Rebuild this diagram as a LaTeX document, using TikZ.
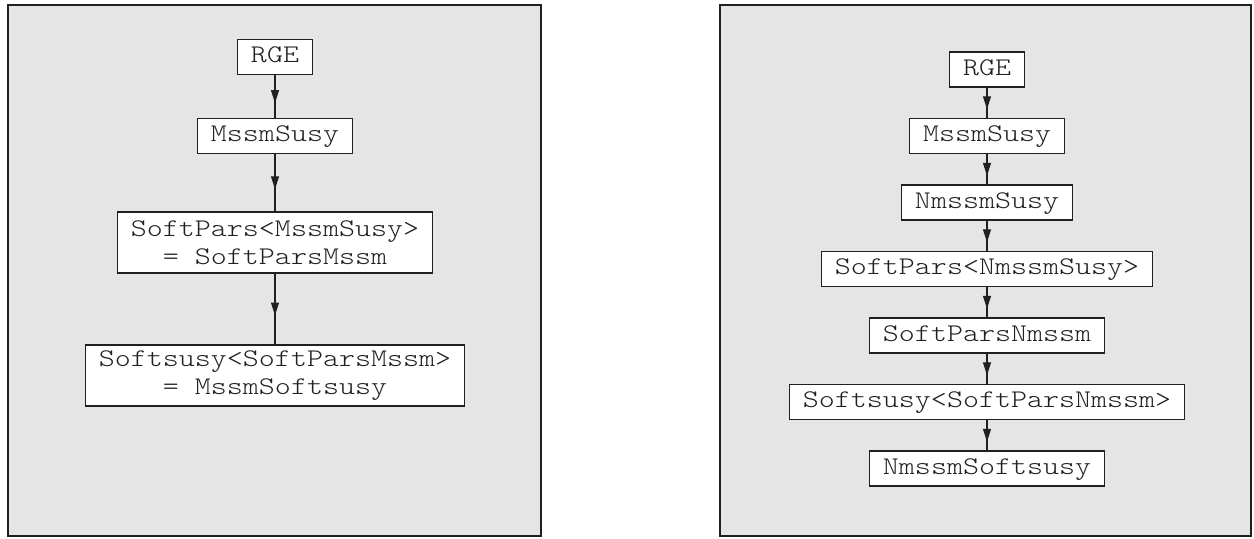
\documentclass[tikz,border=0pt]{standalone}
\usepackage{fontspec}
\setmonofont{Latin Modern Mono Light}[FakeStretch=1.2]
\usetikzlibrary{arrows.meta,decorations.markings}
\definecolor{panelgray}{RGB}{229,229,229}
\definecolor{ink}{RGB}{35,31,32}
\begin{document}
\begin{tikzpicture}[x=0.5pt,y=-0.5pt,
  clsbase/.style={draw=ink, fill=white, line width=0.6pt,
    font=\fontsize{12.7pt}{14pt}\selectfont\ttfamily, text=ink,
    inner xsep=6.75pt, inner ysep=0pt, align=center},
  cls/.style={clsbase, text height=8pt, text depth=2.5pt, minimum height=17.5pt},
  cls2/.style={clsbase, minimum height=30.5pt},
  flow/.style={draw=ink, line width=0.6pt, postaction={decorate},
    decoration={markings, mark=at position 0.5 with {\arrow[xshift=3.25pt]{Triangle[length=6.5pt,width=4pt]}}}},
  panel/.style={draw=ink, fill=panelgray, line width=1pt}]
\useasboundingbox (0,0) rectangle (1254,538);
\draw[panel] (7.5,5) rectangle (540.5,536);
\draw[panel] (720,5) rectangle (1251,536);
% left panel
\node[cls]  (l1) at (275,57)    {RGE};
\node[cls]  (l2) at (275,136)   {MssmSusy};
\node[cls2] (l3) at (275,242.5) {SoftPars<MssmSusy>\\= SoftParsMssm};
\node[cls2] (l4) at (275,375.5) {Softsusy<SoftParsMssm>\\= MssmSoftsusy};
\draw[flow] (l1) -- (l2);
\draw[flow] (l2) -- (l3);
\draw[flow] (l3) -- (l4);
% right panel
\node[cls] (r1) at (987,69.5)  {RGE};
\node[cls] (r2) at (987,136)   {MssmSusy};
\node[cls] (r3) at (987,202.5) {NmssmSusy};
\node[cls] (r4) at (987,269)   {SoftPars<NmssmSusy>};
\node[cls] (r5) at (987,335.5) {SoftParsNmssm};
\node[cls] (r6) at (987,402)   {Softsusy<SoftParsNmssm>};
\node[cls] (r7) at (987,468.5) {NmssmSoftsusy};
\draw[flow] (r1) -- (r2);
\draw[flow] (r2) -- (r3);
\draw[flow] (r3) -- (r4);
\draw[flow] (r4) -- (r5);
\draw[flow] (r5) -- (r6);
\draw[flow] (r6) -- (r7);
\end{tikzpicture}
\end{document}
